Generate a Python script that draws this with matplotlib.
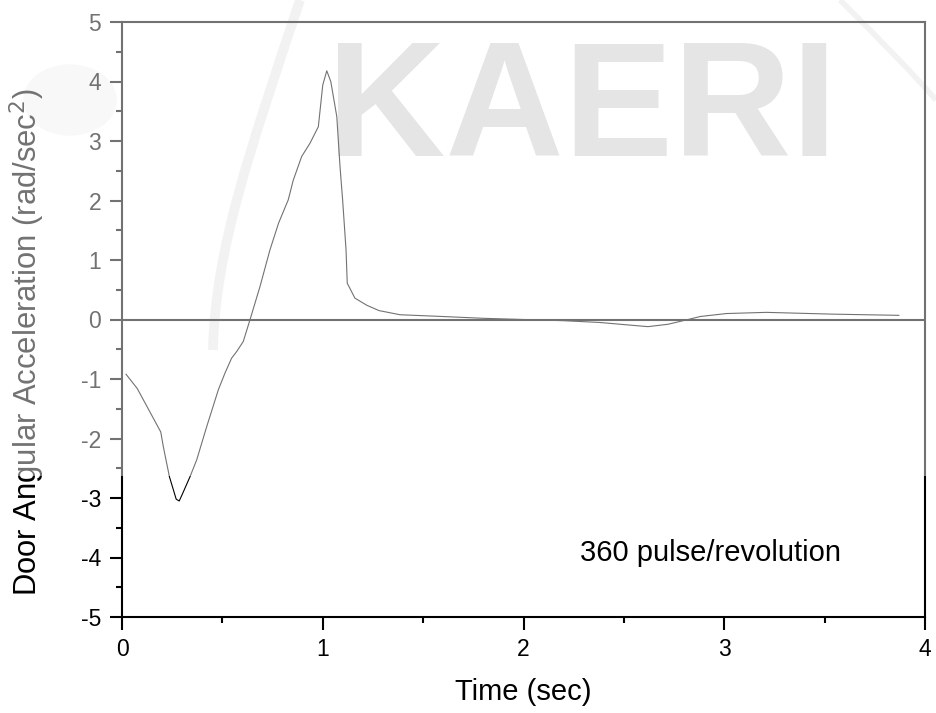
import matplotlib
matplotlib.use("Agg")
import matplotlib.pyplot as plt
from matplotlib.patches import Rectangle, Circle, PathPatch
from matplotlib.path import Path
from matplotlib.ticker import MultipleLocator

plt.rcParams['font.family'] = ['Liberation Sans', 'DejaVu Sans']
plt.rcParams['axes.unicode_minus'] = False

# ---- data ----
time_s = [0.02, 0.076, 0.193, 0.206, 0.236, 0.27, 0.285, 0.30, 0.339, 0.372,
          0.422, 0.48, 0.513, 0.546, 0.571, 0.604, 0.638, 0.687, 0.737, 0.78,
          0.828, 0.853, 0.895, 0.936, 0.978, 1.0, 1.02, 1.04, 1.07, 1.086,
          1.099, 1.116, 1.122, 1.16, 1.219, 1.28, 1.385, 1.6, 1.8, 2.0,
          2.2, 2.38, 2.55, 2.62, 2.72, 2.82, 2.88, 3.01, 3.21, 3.54, 3.87]
accel = [-0.92, -1.16, -1.89, -2.14, -2.64, -3.02, -3.05, -2.94, -2.64, -2.36,
         -1.80, -1.18, -0.90, -0.65, -0.54, -0.37, 0.0, 0.55, 1.17, 1.62,
         2.01, 2.34, 2.74, 2.96, 3.24, 3.94, 4.18, 4.00, 3.41, 2.57,
         2.01, 1.17, 0.61, 0.36, 0.24, 0.15, 0.08, 0.05, 0.02, 0.0,
         -0.02, -0.05, -0.10, -0.12, -0.08, 0.0, 0.05, 0.10, 0.12, 0.09, 0.07]

x_ticks = [0, 1, 2, 3, 4]
y_ticks = [-5, -4, -3, -2, -1, 0, 1, 2, 3, 4, 5]
annotation = "360 pulse/revolution"
watermark = "KAERI"

W, H = 936, 713
fig = plt.figure(figsize=(W / 100, H / 100), dpi=100)
fig.patch.set_facecolor('white')

# watermark decorations (behind the axes)
fig.text(582 / W, 1 - 113 / H, watermark, ha='center', va='center',
         fontsize=118, fontweight='bold', color='#d0d0d0', zorder=-5)
fig.patches.append(Circle((70 / W, 1 - 100 / H), 0.05, transform=fig.transFigure,
                          facecolor='#f4f4f4', edgecolor='none', zorder=-6))
verts = [(300 / W, 1.0), (250 / W, 1 - 150 / H), (215 / W, 1 - 250 / H), (213 / W, 1 - 350 / H)]
fig.patches.append(PathPatch(Path(verts, [Path.MOVETO, Path.CURVE4, Path.CURVE4, Path.CURVE4]),
                             transform=fig.transFigure, facecolor='none',
                             edgecolor='#e8e8e8', lw=7, zorder=-6))
verts2 = [(840 / W, 1.0), (880 / W, 1 - 40 / H), (910 / W, 1 - 70 / H), (936 / W, 1 - 100 / H)]
fig.patches.append(PathPatch(Path(verts2, [Path.MOVETO, Path.CURVE4, Path.CURVE4, Path.CURVE4]),
                             transform=fig.transFigure, facecolor='none',
                             edgecolor='#e8e8e8', lw=4, zorder=-6))

ax = fig.add_axes([122 / W, 1 - 617 / H, (925 - 122) / W, (617 - 22) / H])
ax.set_facecolor('none')

ax.plot(time_s, accel, color='black', lw=0.8)
ax.axhline(0, color='black', lw=1.5)

ax.set_xlim(0, 4)
ax.set_ylim(-5, 5)
ax.set_xticks(x_ticks)
ax.set_yticks(y_ticks)
ax.xaxis.set_minor_locator(MultipleLocator(0.5))
ax.yaxis.set_minor_locator(MultipleLocator(0.5))
ax.tick_params(which='major', direction='out', length=9, width=1.5, labelsize=16.5, pad=6)
ax.tick_params(which='minor', direction='out', length=4.5, width=1.5)
for s in ax.spines.values():
    s.set_linewidth(1.5)

ax.set_xlabel('Time (sec)', fontsize=21, labelpad=12)
ax.set_ylabel('Door Angular Acceleration (rad/sec$^2$)', fontsize=22.3)
ax.yaxis.set_label_coords(-0.094, 0.462)

ax.text(2.28, -3.93, annotation, fontsize=21, ha='left', va='center')

# semi-transparent watermark veil over upper part
fig.patches.append(Rectangle((0, 1 - 476 / H), 1, 476 / H, transform=fig.transFigure,
                             facecolor='white', edgecolor='none', alpha=0.45, zorder=100))

fig.savefig('out.png', dpi=100)
